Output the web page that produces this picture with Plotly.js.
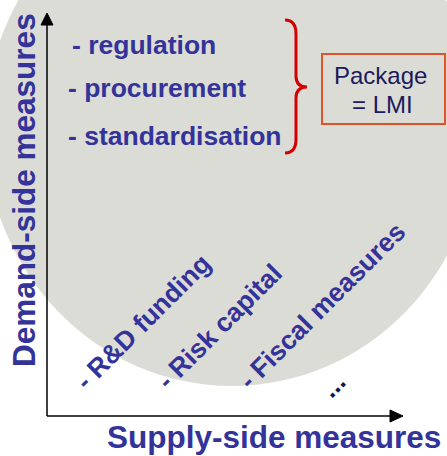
<!DOCTYPE html>
<html>
<head>
<meta charset="utf-8">
<script src="https://cdn.plot.ly/plotly-3.0.1.min.js"></script>
<style>html,body{margin:0;padding:0;background:#fff;}#chart{width:447px;height:456px;}</style>
</head>
<body>
<div id="chart"></div>
<script>
// ---- content (text only) ----
const yAxisTitle = 'Demand-side measures';
const xAxisTitle = 'Supply-side measures';
const demandMeasures = ['- regulation', '- procurement', '- standardisation'];
const supplyMeasures = ['- R&D funding', '- Risk capital', '- Fiscal measures', '...'];
const packageLines = ['Package', '= LMI'];

// ---- layout positions (pixel-like coordinates of the canvas) ----
const demandX = [70, 66, 66];
const demandY = [45, 88, 136];
const supplyX = [143, 219, 322, 333];
const supplyY = [322, 327, 306, 385];
const packageX = [380, 382];
const packageY = [75, 104];

const BLUE = '#333399';
const FONT = 'Arial, "Liberation Sans", sans-serif';

const annotations = [];
demandMeasures.forEach((t, i) => annotations.push({
  x: demandX[i], y: demandY[i], xref: 'x', yref: 'y', text: '<b>' + t + '</b>',
  showarrow: false, xanchor: 'left', yanchor: 'middle',
  font: {family: FONT, size: 26.5, color: BLUE}
}));
supplyMeasures.forEach((t, i) => annotations.push({
  x: supplyX[i], y: supplyY[i], xref: 'x', yref: 'y', text: '<b>' + t + '</b>',
  showarrow: false, xanchor: 'center', yanchor: 'middle', textangle: -45,
  font: {family: FONT, size: 26.5, color: i === 3 ? '#141450' : BLUE}
}));
packageLines.forEach((t, i) => annotations.push({
  x: packageX[i], y: packageY[i], xref: 'x', yref: 'y', text: t,
  showarrow: false, xanchor: 'center', yanchor: 'middle',
  font: {family: FONT, size: 24, color: '#1a1a5c'}
}));
annotations.push({
  x: 274, y: 437, xref: 'x', yref: 'y', text: '<b>' + xAxisTitle + '</b>',
  showarrow: false, xanchor: 'center', yanchor: 'middle',
  font: {family: FONT, size: 31.5, color: BLUE}
});
annotations.push({
  x: 24, y: 190, xref: 'x', yref: 'y', text: '<b>' + yAxisTitle + '</b>',
  showarrow: false, xanchor: 'center', yanchor: 'middle', textangle: -90,
  font: {family: FONT, size: 31.5, color: BLUE}
});

const shapes = [
  // grey ellipse background
  {type: 'circle', xref: 'x', yref: 'y', x0: -15, x1: 479, y0: -128, y1: 386,
   fillcolor: '#dcdcd6', line: {width: 0}, layer: 'below'},
  // axes
  {type: 'line', xref: 'x', yref: 'y', x0: 47, y0: 24, x1: 47, y1: 416, line: {color: '#000', width: 1.5}},
  {type: 'line', xref: 'x', yref: 'y', x0: 47, y0: 416, x1: 391, y1: 416, line: {color: '#000', width: 1.5}},
  {type: 'path', xref: 'x', yref: 'y', path: 'M 47 13 L 53 25 L 41 25 Z', fillcolor: '#000', line: {color: '#000', width: 1}},
  {type: 'path', xref: 'x', yref: 'y', path: 'M 403 416 L 390 410 L 390 422 Z', fillcolor: '#000', line: {color: '#000', width: 1}},
  // brace
  {type: 'path', xref: 'x', yref: 'y',
   path: 'M 285 20 Q 296 20 296 34 L 296 76 Q 296 87 307 87 Q 296 87 296 98 L 296 139 Q 296 153 285 153',
   line: {color: '#d40000', width: 3}},
  // package box
  {type: 'rect', xref: 'x', yref: 'y', x0: 322, y0: 54, x1: 445, y1: 124,
   line: {color: '#de5428', width: 2}, fillcolor: 'rgba(0,0,0,0)'}
];

const layout = {
  width: 447, height: 456,
  margin: {l: 0, r: 0, t: 0, b: 0, pad: 0},
  paper_bgcolor: '#ffffff', plot_bgcolor: 'rgba(0,0,0,0)',
  xaxis: {range: [0, 447], visible: false, fixedrange: true},
  yaxis: {range: [456, 0], visible: false, fixedrange: true},
  showlegend: false,
  shapes: shapes,
  annotations: annotations
};

Plotly.newPlot('chart', [{x: [], y: [], type: 'scatter', mode: 'markers', hoverinfo: 'skip'}], layout, {displayModeBar: false, staticPlot: true});
</script>
</body>
</html>
